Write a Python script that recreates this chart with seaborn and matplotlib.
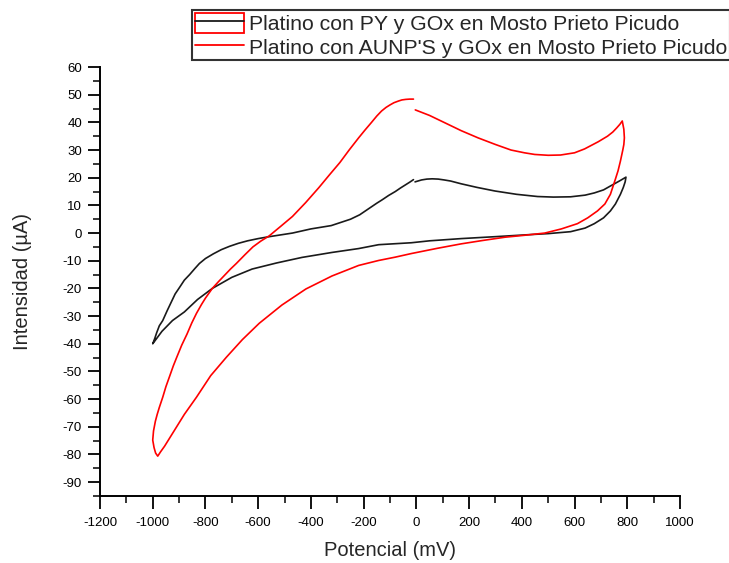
import numpy as np
import pandas as pd
import matplotlib
matplotlib.use("Agg")
import matplotlib.pyplot as plt
from matplotlib.patches import Rectangle
from matplotlib.lines import Line2D
from matplotlib.legend_handler import HandlerTuple
from matplotlib.ticker import MultipleLocator
import seaborn as sns

# Cyclic voltammogram, platinum electrode with PY + GOx (scan order: 0 -> +800 -> -1000 -> 0)
py_potential = [-5, 20, 40, 60, 83, 105, 130, 170, 230, 298, 380, 460, 520, 585, 640, 675, 710, 736, 770, 795,
                792, 785, 774, 755, 736, 710, 675, 640, 585, 500, 423, 300, 170, 50, -19, -143, -219,
                -320, -434, -530, -623, -700, -774, -830, -880, -925, -965, -1000,
                -992, -985, -975, -962, -945, -930, -915, -898, -880, -860, -840, -823, -800, -770, -740,
                -709, -675, -640, -600, -558, -470, -400, -323, -250, -215, -181, -150, -130, -105, -80,
                -60, -40, -25, -11]
py_current = [18.5, 19.2, 19.5, 19.6, 19.5, 19.2, 18.8, 17.8, 16.5, 15.2, 14.0, 13.2, 13.0, 13.1, 13.7, 14.5,
              15.6, 17.0, 18.8, 20.2,
              18.5, 16.5, 14.0, 10.5, 8.0, 5.5, 3.4, 1.8, 0.5, -0.2, -0.6, -1.3, -2.0, -2.8, -3.5, -4.2, -5.6,
              -7.0, -8.8, -10.8, -13.0, -16.0, -20.0, -24.0, -28.5, -31.6, -35.5, -40.0,
              -38.0, -36.0, -33.5, -31.6, -28.0, -25.0, -22.0, -19.6, -17.0, -15.0, -12.8, -11.0, -9.2, -7.5, -6.0,
              -4.8, -3.7, -2.8, -2.0, -1.3, 0.0, 1.5, 2.7, 5.0, 6.6, 8.8, 10.8, 12.0, 13.6, 15.0,
              16.3, 17.5, 18.4, 19.3]

# Platinum electrode with AuNP's + GOx
au_potential = [-4, 50, 109, 170, 234, 300, 359, 410, 449, 500, 547, 600, 638, 690, 725, 745, 760, 772, 781,
                787, 789, 787, 783, 774, 765, 755, 736, 715, 687, 650, 611, 550, 487, 410, 336, 250, 170, 80, -19,
                -80, -143, -219, -320, -419, -510, -596, -660, -721, -780, -834, -880, -925, -955, -970, -981,
                -989, -995, -1000,
                -997, -990, -983, -975, -962, -950, -935, -922, -909, -890, -870, -852, -834, -815, -800, -774,
                -750, -730, -705, -683, -650, -620, -590, -558, -515, -470, -420, -370, -330, -290, -255, -219,
                -195, -170, -150, -132, -115, -100, -85, -68, -55, -40, -25, -11]
au_current = [44.5, 42.5, 39.8, 37.0, 34.4, 32.0, 30.0, 29.0, 28.4, 28.1, 28.2, 29.0, 30.4, 33.0, 35.0,
              36.5, 38.0, 39.3, 40.5,
              37.5, 34.4, 32.0, 30.0, 26.0, 22.5, 19.5, 14.0, 10.5, 8.0, 5.5, 3.4, 1.5, 0.0, -0.8, -1.5, -2.7,
              -3.9, -5.5, -7.4,
              -8.7, -9.9, -11.7, -15.5, -20.2, -26.0, -32.6, -38.5, -44.9, -51.5, -59.3, -65.5, -72.4, -77.0,
              -79.0, -80.6,
              -79.5, -77.5, -74.8,
              -71.5, -68.0, -65.5, -63.0, -59.3, -55.5, -51.5, -48.0, -44.9, -40.5, -36.5, -32.5, -29.0, -25.8,
              -23.5, -20.0, -17.5, -15.5, -13.0, -11.0, -7.8, -5.0, -2.9, -1.0, 2.4, 6.0, 11.0, 16.4, 21.0,
              25.5, 30.0, 34.4, 37.2, 40.0, 42.3, 44.1, 45.4, 46.3, 47.1, 47.7, 48.1, 48.3, 48.4, 48.4]

labels = ["Platino con PY y GOx en Mosto Prieto Picudo",
          "Platino con AUNP'S y GOx en Mosto Prieto Picudo"]
x_ticks = list(range(-1200, 1001, 200))
y_ticks = list(range(-90, 61, 10))

sns.set_theme(style="ticks")
plt.rcParams["font.family"] = ["Liberation Sans", "DejaVu Sans"]
plt.rcParams["axes.unicode_minus"] = False

fig = plt.figure(figsize=(7.29, 5.63), dpi=100)
ax = fig.add_axes([100 / 729, 1 - 496 / 563, 580 / 729, (496 - 67) / 563])

df_py = pd.DataFrame({"x": py_potential, "y": py_current})
df_au = pd.DataFrame({"x": au_potential, "y": au_current})
sns.lineplot(data=df_py, x="x", y="y", sort=False, estimator=None, color="#1a1a1a", lw=1.2, ax=ax)
sns.lineplot(data=df_au, x="x", y="y", sort=False, estimator=None, color="#ff0000", lw=1.2, ax=ax)

ax.set_xlim(-1200, 1000)
ax.set_ylim(-95, 60)
ax.set_xticks(x_ticks)
ax.set_yticks(y_ticks)
ax.xaxis.set_minor_locator(MultipleLocator(100))
ax.yaxis.set_minor_locator(MultipleLocator(5))
ax.tick_params(which="major", direction="out", length=9, width=1.3, labelsize=9.5, colors="black")
ax.tick_params(which="minor", direction="out", length=5, width=1.3)
ax.tick_params(axis="x", pad=6)
ax.tick_params(axis="y", pad=4)
sns.despine(ax=ax)
for s in ("left", "bottom"):
    ax.spines[s].set_linewidth(1.4)
    ax.spines[s].set_color("black")

ax.set_xlabel("Potencial (mV)", fontsize=14.5, labelpad=9)
ax.set_ylabel("Intensidad (\u00b5A)", fontsize=14.5, labelpad=22)

# First handle: red outlined box with a black line across it; second: plain red line
h1 = (Rectangle((0, 0), 1, 1, facecolor="none", edgecolor="#ff0000", lw=1.3),
      Line2D([], [], color="#1a1a1a", lw=1.3))
h2 = Line2D([], [], color="#ff0000", lw=1.3)
leg = fig.legend([h1, h2], labels, handler_map={tuple: HandlerTuple(ndivide=1, pad=0)},
                 loc="upper left", bbox_to_anchor=(192 / 729, 1 - 10 / 563),
                 fontsize=15.3, frameon=True, fancybox=False, handlelength=2.35,
                 handleheight=1.1, handletextpad=0.2, labelspacing=0.1, borderpad=0.12,
                 borderaxespad=0)
leg.get_frame().set_edgecolor("black")
leg.get_frame().set_linewidth(1.5)

fig.savefig("out.png", dpi=100)
